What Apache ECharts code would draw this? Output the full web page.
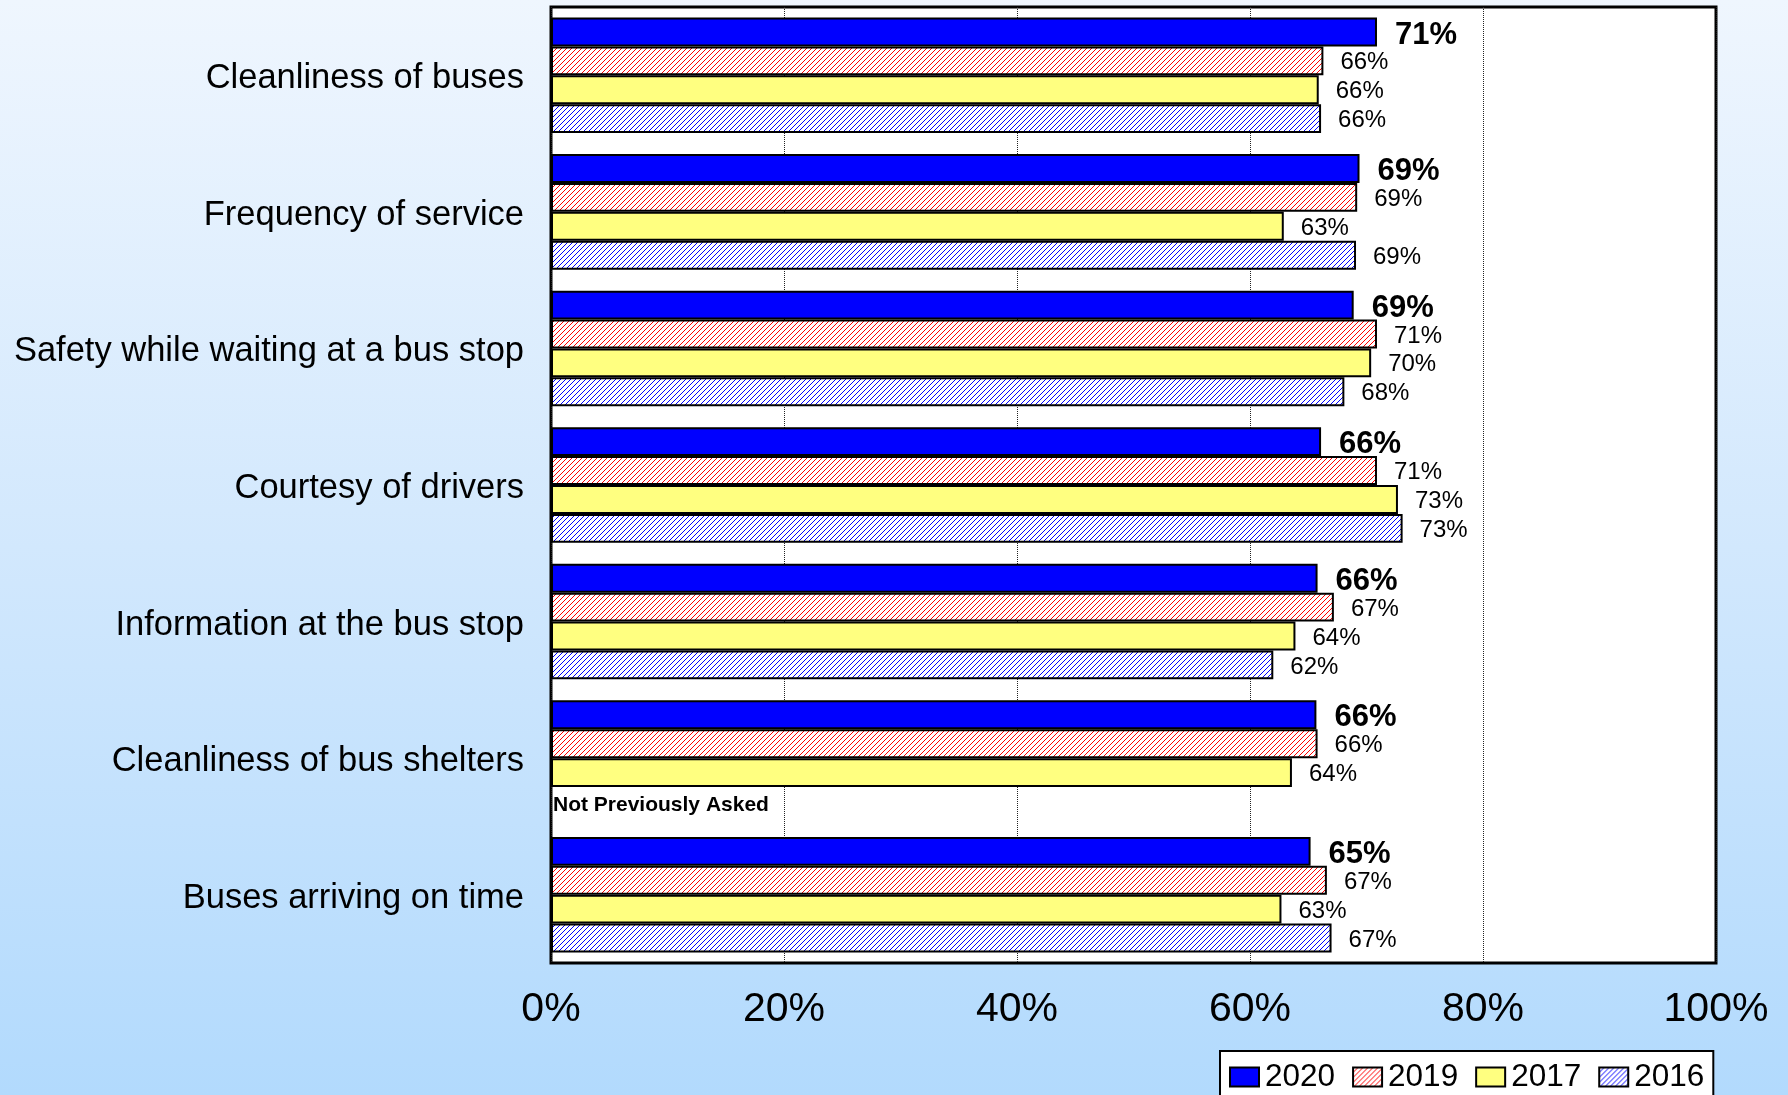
<!DOCTYPE html>
<html>
<head>
<meta charset="utf-8">
<script src="https://cdn.jsdelivr.net/npm/echarts@6/dist/echarts.min.js"></script>
<style>
  html, body { margin: 0; padding: 0; }
  #chart { width: 1788px; height: 1095px; }
</style>
</head>
<body>
<div id="chart"></div>
<script>
// Survey items, listed top to bottom
const categories = [
  'Cleanliness of buses',
  'Frequency of service',
  'Safety while waiting at a bus stop',
  'Courtesy of drivers',
  'Information at the bus stop',
  'Cleanliness of bus shelters',
  'Buses arriving on time'
];

// Percent satisfied by survey year (null = item not asked that year)
const values2020 = [70.9, 69.4, 68.9, 66.1, 65.8, 65.7, 65.2];
const values2019 = [66.3, 69.2, 70.9, 70.9, 67.2, 65.8, 66.6];
const values2017 = [65.9, 62.9, 70.4, 72.7, 63.9, 63.6, 62.7];
const values2016 = [66.1, 69.1, 68.1, 73.1, 62.0, null, 67.0];

const years = ['2020', '2019', '2017', '2016'];
const notAskedText = 'Not Previously Asked';

const xTicks = { min: 0, max: 100, interval: 20 };

const FONT = "'Liberation Sans', Arial, Helvetica, sans-serif";

// Diagonal hatch fill ("/" direction) on white
function hatch(color) {
  const size = 5;
  const c = document.createElement('canvas');
  c.width = size; c.height = size;
  const ctx = c.getContext('2d');
  ctx.fillStyle = '#ffffff';
  ctx.fillRect(0, 0, size, size);
  ctx.fillStyle = color;
  for (let i = 0; i < size; i++) {
    ctx.fillRect(i, size - 1 - i, 1, 1);
  }
  return { image: c, repeat: 'repeat' };
}

const fills = [
  '#0000ff',
  hatch('#ff0000'),
  '#ffff80',
  hatch('#0000ff')
];

const seriesValues = [values2020, values2019, values2017, values2016];

function pctLabel(p) {
  return Math.round(p.value) + '%';
}

const series = years.map((year, si) => {
  const bold = si === 0;
  const data = seriesValues[si].map(v => {
    if (v === null) {
      return {
        value: 0,
        itemStyle: { borderWidth: 0 },
        label: {
          show: true,
          position: 'right',
          distance: 2,
          offset: [0, 4],
          formatter: notAskedText,
          fontFamily: FONT,
          fontWeight: 'bold',
          fontSize: 21,
          color: '#000'
        }
      };
    }
    return v;
  });
  return {
    name: year,
    type: 'bar',
    data: data,
    barGap: '0%',
    barCategoryGap: '15.4%',
    itemStyle: {
      color: fills[si],
      borderColor: '#000',
      borderWidth: 2
    },
    label: {
      show: true,
      position: 'right',
      distance: bold ? 18 : 17,
      offset: bold ? [0, 3] : [0, 2],
      formatter: pctLabel,
      fontFamily: FONT,
      fontSize: bold ? 31 : 24,
      fontWeight: bold ? 'bold' : 'normal',
      color: '#000'
    },
    emphasis: { disabled: true },
    animation: false
  };
});

const chart = echarts.init(document.getElementById('chart'), null, { renderer: 'canvas' });

chart.setOption({
  animation: false,
  backgroundColor: {
    type: 'linear', x: 0, y: 0, x2: 0, y2: 1,
    colorStops: [
      { offset: 0, color: '#eff6fe' },
      { offset: 0.5, color: '#d2e8fd' },
      { offset: 1, color: '#b2dafd' }
    ]
  },
  textStyle: { fontFamily: FONT },
  grid: {
    left: 551,
    right: 72,
    top: 7,
    bottom: 132,
    show: true,
    backgroundColor: '#ffffff',
    borderColor: '#000000',
    borderWidth: 3,
    containLabel: false
  },
  legend: {
    data: years,
    left: 1220,
    top: 1051,
    orient: 'horizontal',
    itemWidth: 29,
    itemHeight: 19,
    itemGap: 17,
    padding: [10, 9, 14, 9],
    backgroundColor: '#ffffff',
    borderColor: '#000000',
    borderWidth: 2,
    borderRadius: 0,
    icon: 'rect',
    textStyle: {
      fontFamily: FONT,
      fontSize: 31.5,
      color: '#000',
      padding: [0, 0, 0, 1]
    },
    selectedMode: false
  },
  xAxis: {
    type: 'value',
    min: xTicks.min,
    max: xTicks.max,
    interval: xTicks.interval,
    axisLine: { show: false },
    axisTick: { show: false },
    axisLabel: {
      formatter: '{value}%',
      fontFamily: FONT,
      fontSize: 41,
      color: '#000',
      margin: 26
    },
    splitLine: {
      show: true,
      lineStyle: { color: '#222', width: 1, type: [1, 1] }
    }
  },
  yAxis: {
    type: 'category',
    data: categories,
    inverse: true,
    axisLine: { show: false },
    axisTick: { show: false },
    splitLine: { show: false },
    axisLabel: {
      margin: 27,
      formatter: v => '{t|' + v + '}',
      rich: {
        t: {
          fontFamily: FONT,
          fontSize: 34.5,
          color: '#000',
          padding: [7, 0, 0, 0]
        }
      }
    }
  },
  series: series
});
</script>
</body>
</html>
